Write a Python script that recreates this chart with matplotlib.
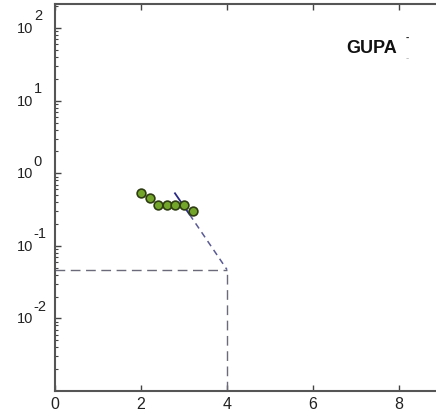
import matplotlib.pyplot as plt
from matplotlib.ticker import LogLocator, NullFormatter
import numpy as np

plt.rcParams['font.family'] = ['Liberation Sans', 'DejaVu Sans']

# measured points
x_pts = [2.0, 2.2, 2.4, 2.6, 2.8, 3.0, 3.2]
y_pts = [0.535, 0.46, 0.37, 0.37, 0.37, 0.36, 0.30]

# fitted decay: solid over the data, dashed down to the crossing
fit_x = [2.79, 3.13, 4.0]
fit_y = [0.53, 0.27, 0.047]
cross_x = 4.0
cross_y = 0.047

x_ticks = [0, 2, 4, 6, 8]
decades = [-2, -1, 0, 1, 2]

fig = plt.figure(figsize=(4.36, 4.14), dpi=100)
ax = fig.add_axes([55 / 436, 22 / 414, 430 / 436, 387 / 414])

ax.plot([0, cross_x], [cross_y, cross_y], color='#6a6a7a', lw=1.0, dashes=(7, 4))
ax.plot([cross_x, cross_x], [1e-3, cross_y], color='#6a6a7a', lw=1.0, dashes=(7, 4))
ax.plot(fit_x[:2], fit_y[:2], color='#2a2a85', lw=1.3)
ax.plot(fit_x[1:], fit_y[1:], color='#5a5a95', lw=1.1, dashes=(4, 3))
ax.plot(x_pts, y_pts, 'o', ms=6.3, mfc='#72a52a', mec='#2f3d12', mew=1.2)

ax.set_yscale('log')
ax.set_xlim(0, 10)
ax.set_ylim(1e-3, 215)
ax.set_xticks(x_ticks)
ax.set_yticks([10.0 ** d for d in decades])
ax.yaxis.set_minor_locator(LogLocator(base=10, subs=np.arange(2, 10)))
ax.yaxis.set_major_formatter(NullFormatter())
ax.yaxis.set_minor_formatter(NullFormatter())

# decade labels with full-size exponents
for d in decades:
    ax.annotate('10', xy=(0, 10.0 ** d), xycoords=('axes fraction', 'data'),
                xytext=(-15.8, 0), textcoords='offset points',
                ha='right', va='center', fontsize=10.5, color='#222222')
    ax.annotate(str(d), xy=(0, 10.0 ** d), xycoords=('axes fraction', 'data'),
                xytext=(-15.3, 6.3), textcoords='offset points',
                ha='left', va='baseline', fontsize=10.5, color='#222222')

ax.tick_params(direction='in', top=True, right=True, labelsize=11.5, colors='#444444',
               labelcolor='#222222', length=4, width=1)
ax.tick_params(which='minor', direction='in', left=True, right=True, length=2.5, width=0.8,
               colors='#444444')
for s in ax.spines.values():
    s.set_color('#555555')
    s.set_linewidth(1.5)

ax.text(0.737, 0.888, 'GUPA', transform=ax.transAxes, fontsize=13,
        fontweight='bold', ha='center', va='center', color='#111111')
ax.text(0.819, 0.915, '-', transform=ax.transAxes, fontsize=7,
        fontweight='bold', ha='center', va='center', color='#222222')
ax.text(0.819, 0.862, '-', transform=ax.transAxes, fontsize=7,
        ha='center', va='center', color='#b0b0b0')

fig.savefig('out.png', dpi=100)
